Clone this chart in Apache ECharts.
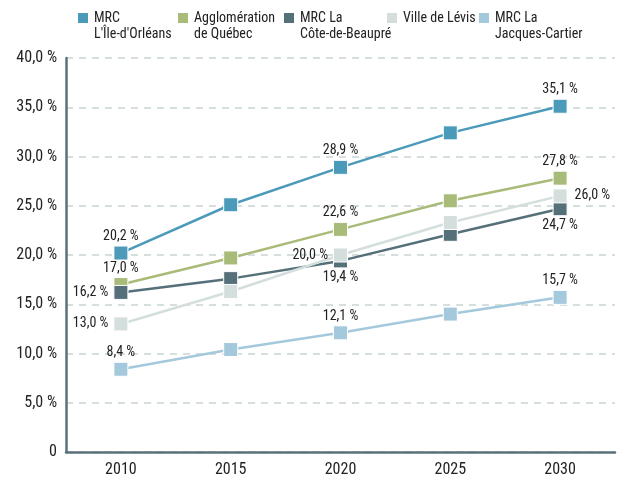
<!DOCTYPE html>
<html>
<head>
<meta charset="utf-8">
<script src="https://cdn.jsdelivr.net/npm/echarts@6/dist/echarts.min.js"></script>
<style>html,body{margin:0;padding:0;background:#fff}#c{width:628px;height:478px}</style>
</head>
<body>
<div id="c"></div>
<script>
var categories = ['2010', '2015', '2020', '2025', '2030'];
var seriesNames = ['MRC\nL\'Île-d\'Orléans', 'Agglomération\nde Québec', 'MRC La\nCôte-de-Beaupré', 'Ville de Lévis', 'MRC La\nJacques-Cartier'];
var ileOrleans = [20.2, 25.1, 28.9, 32.4, 35.1];
var agglomQuebec = [17.0, 19.7, 22.6, 25.5, 27.8];
var coteBeaupre = [16.2, 17.6, 19.4, 22.1, 24.7];
var villeLevis = [13.0, 16.3, 20.0, 23.3, 26.0];
var jacquesCartier = [8.4, 10.4, 12.1, 14.0, 15.7];
var yTicks = { min: 0, max: 40, interval: 5 };

var FONT = "'Liberation Sans Narrow', 'Roboto Condensed', 'DejaVu Sans Condensed', sans-serif";
var colors = ['#4b9aba', '#a9bb78', '#56707a', '#d3dedd', '#a4c8dc'];
var values = [ileOrleans, agglomQuebec, coteBeaupre, villeLevis, jacquesCartier];
// label positions for indices 0,2,4
var labelPos = [
  ['top', 'top', 'top'],
  ['top', 'top', 'top'],
  ['left', 'bottom', 'bottom'],
  ['left', 'left', 'right'],
  ['top', 'top', 'top']
];
var labelDist = { top: 2, bottom: 2, left: 5, right: 7 };
var legendLeft = [76, 176, 282, 385, 477];

function fmt(v) { return v.toFixed(1).replace('.', ',') + ' %'; }

var series = values.map(function (arr, si) {
  return {
    name: seriesNames[si],
    type: 'line',
    symbol: 'rect',
    symbolSize: 14,
    lineStyle: { color: colors[si], width: 2.5 },
    itemStyle: { color: colors[si], borderColor: '#fff', borderWidth: 1 },
    emphasis: { disabled: true },
    data: arr.map(function (v, i) {
      var d = { value: v };
      if (i % 2 === 0) {
        var pos = labelPos[si][i / 2];
        d.label = {
          show: true,
          position: pos,
          distance: labelDist[pos],
          formatter: function (p) { return fmt(p.value); },
          color: '#222',
          fontSize: 14,
          fontFamily: FONT
        };
      }
      return d;
    })
  };
});

var legends = seriesNames.map(function (n, i) {
  var multi = n.indexOf('\n') >= 0;
  return {
    data: [{ name: n, icon: 'rect' }],
    left: legendLeft[i],
    top: multi ? -6 : 10,
    padding: 0,
    itemWidth: 12,
    itemHeight: 12,
    selectedMode: false,
    formatter: function (name) { return multi ? '\n' + name : name; },
    textStyle: { fontFamily: FONT, fontSize: 14, color: '#222', lineHeight: 16 }
  };
});

var chart = echarts.init(document.getElementById('c'), null, { renderer: 'canvas' });
chart.setOption({
  animation: false,
  legend: legends,
  grid: { left: 66, right: 13, top: 58, bottom: 26, containLabel: false },
  xAxis: {
    type: 'category',
    data: categories,
    boundaryGap: true,
    axisLine: { lineStyle: { color: '#5b717a', width: 2.5 } },
    axisTick: { show: false },
    axisLabel: { color: '#222', fontSize: 16, fontFamily: FONT, margin: 10 },
    splitLine: { show: false }
  },
  yAxis: {
    type: 'value',
    min: yTicks.min, max: yTicks.max, interval: yTicks.interval,
    axisLine: { show: true, lineStyle: { color: '#5b717a', width: 2.5 } },
    axisTick: { show: false },
    axisLabel: {
      color: '#222', fontSize: 16, fontFamily: FONT, margin: 9,
      formatter: function (v) { return v === 0 ? '0' : fmt(v); }
    },
    splitLine: { lineStyle: { color: '#c8d5d2', width: 1.5, type: [7, 6] } }
  },
  series: series
});
</script>
</body>
</html>
